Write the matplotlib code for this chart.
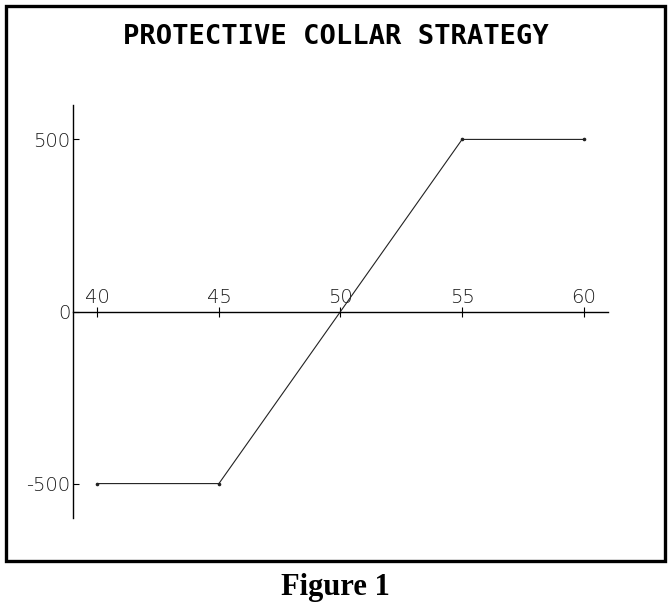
import matplotlib
matplotlib.use("Agg")
import matplotlib.pyplot as plt
import matplotlib.patches as patches

# payoff at expiry
prices = [40, 45, 55, 60]
profit = [-500, -500, 500, 500]
xticks = [40, 45, 50, 55, 60]
yticks = [-500, 0, 500]

W, H = 672, 607
fig = plt.figure(figsize=(W / 100, H / 100), dpi=100)

# outer frame
fig.add_artist(patches.Rectangle((6 / W, 1 - 561 / H), 659 / W, 555 / H,
                                 transform=fig.transFigure, fill=False,
                                 edgecolor="black", linewidth=2.4))

ax = fig.add_axes([73 / W, 1 - 518 / H, (608 - 73) / W, (518 - 105) / H])
ax.plot(prices, profit, color="#222222", linewidth=0.8,
        marker="o", markersize=1.6)
ax.set_xlim(39, 61)
ax.set_ylim(-600, 600)

ax.spines["bottom"].set_visible(False)
ax.spines["right"].set_visible(False)
ax.spines["top"].set_position(("data", 0))
ax.spines["top"].set_linewidth(1.0)
ax.spines["left"].set_linewidth(1.0)

ax.xaxis.tick_top()
ax.set_xticks(xticks)
ax.set_xticklabels([str(v) for v in xticks])
ax.tick_params(axis="x", direction="inout", length=7, width=0.8, pad=0,
               labelsize=14, labelcolor="#1a1a1a")
ax.set_yticks(yticks)
ax.set_yticklabels([str(v) for v in yticks])
ax.tick_params(axis="y", direction="in", length=4, width=0.8, pad=2,
               labelsize=14, labelcolor="#1a1a1a")
for lbl in ax.get_xticklabels() + ax.get_yticklabels():
    lbl.set_fontweight("light")

fig.text(336 / W, 1 - 37 / H, "PROTECTIVE COLLAR STRATEGY",
         family="DejaVu Sans Mono", fontweight="bold", fontsize=19.5,
         ha="center", va="center")
fig.text(335 / W, 1 - 587 / H, "Figure 1", family="Liberation Serif",
         fontweight="bold", fontsize=22, ha="center", va="center")

fig.savefig("out.png", dpi=100)
